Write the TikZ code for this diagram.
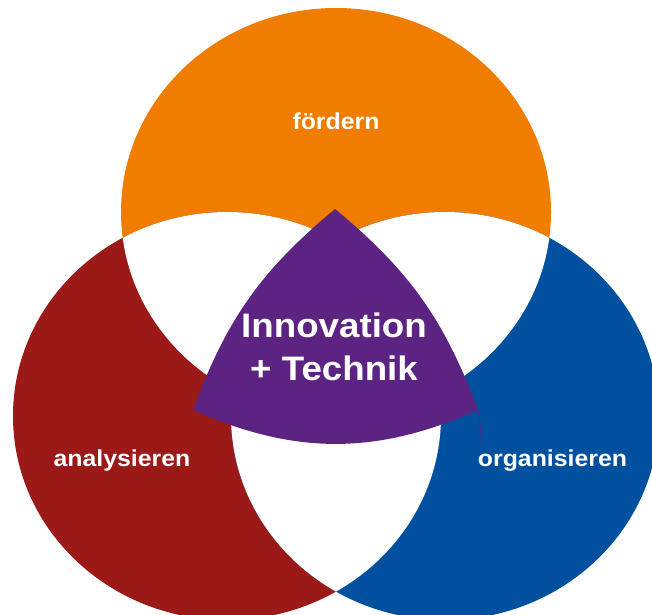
\documentclass[tikz,border=0pt]{standalone}
\usepackage{fontspec}
\setmainfont{Liberation Sans}[FakeStretch=1.08]
\definecolor{orangec}{RGB}{240,125,0}
\definecolor{redc}{RGB}{155,25,22}
\definecolor{bluec}{RGB}{0,80,160}
\definecolor{purplec}{RGB}{92,35,130}
\tikzset{
  lbl/.style={text=white,font=\bfseries\fontsize{23}{27}\selectfont,anchor=base,inner sep=0pt},
  biglbl/.style={text=white,font=\bfseries\fontsize{34}{40}\selectfont,anchor=base,inner sep=0pt},
  orangeshape/.style={x radius=215,y radius=204},
}
\begin{document}
\begin{tikzpicture}[x=1pt,y=1pt]
\useasboundingbox (0,0) rectangle (652,-614);
\clip (0,0) rectangle (652,-614);
% circles
\fill[orangec] (336,-212) ellipse [x radius=215,y radius=204];
\fill[redc] (227,-416) ellipse [x radius=214,y radius=204];
\fill[bluec] (445,-416) ellipse [x radius=214,y radius=204];
% pairwise intersections
\begin{scope}
  \clip (336,-212) ellipse [x radius=215,y radius=204];
  \fill[white] (227,-416) ellipse [x radius=214,y radius=204];
  \fill[white] (445,-416) ellipse [x radius=214,y radius=204];
\end{scope}
\begin{scope}
  \clip (227,-416) ellipse [x radius=214,y radius=204];
  \fill[white] (445,-416) ellipse [x radius=214,y radius=204];
\end{scope}
% central shape
\coordinate (T) at (335,-209);
\coordinate (L) at (193,-410);
\coordinate (R) at (478,-410);
\coordinate (E) at (481,-444);
\fill[purplec] (T) to[bend right=15] (L) to[bend right=24] (R) to[bend right=15] (T) -- cycle;
\draw[purplec,line width=0.7pt] (R) to[bend left=4] (E);
% labels
\node[lbl] (f) at (336,-129) {fördern};
\node[lbl] (a) at (122,-466) {analysieren};
\node[lbl] (o) at (552.5,-466) {organisieren};
\node[biglbl] (i) at (334,-337) {Innovation};
\node[biglbl] (t) at (334,-380) {+ Technik};
\end{tikzpicture}
\end{document}
